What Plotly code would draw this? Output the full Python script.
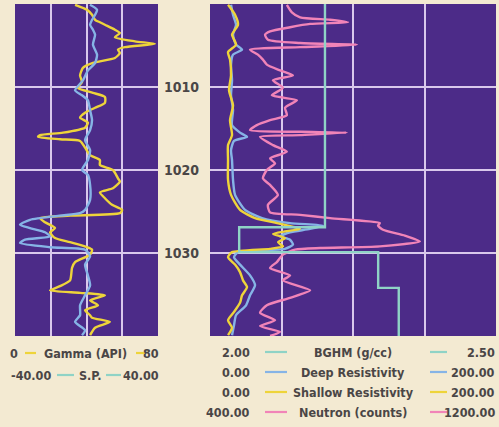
import plotly.graph_objects as go

# ---------------- data ----------------
gamma_depth = [1000.1, 1000.7, 1001.3, 1001.9, 1002.2, 1002.5, 1003.1, 1003.5, 1004.0, 1004.5, 1004.8,
               1005.2, 1005.5, 1005.9, 1006.5, 1007.1, 1007.7, 1008.6, 1009.4, 1010.1, 1010.7, 1011.2,
               1011.9, 1012.5, 1013.1, 1013.7, 1014.3, 1014.9, 1015.5, 1015.8, 1016.0, 1016.3, 1016.5,
               1017.3, 1018.2, 1018.8, 1019.4, 1020.0, 1021.0, 1021.4, 1022.2, 1022.7, 1023.4, 1024.2,
               1024.8, 1025.2, 1025.5, 1025.8, 1026.3, 1027.0, 1027.5, 1028.2, 1028.7, 1029.3, 1029.6,
               1030.2, 1031.1, 1031.8, 1033.3, 1034.0, 1034.5, 1034.8, 1035.1, 1035.7, 1036.3, 1036.9,
               1037.5, 1037.8, 1038.3, 1039.0, 1039.9]
gamma_api = [33.6, 40.3, 43.1, 44.8, 47.5, 50.3, 55.9, 58.7, 55.9, 67.1, 78.3,
             61.5, 57.6, 58.7, 55.9, 43.6, 38.0, 36.4, 37.5, 35.2, 43.6, 50.3,
             50.3, 44.8, 39.2, 36.4, 40.8, 39.2, 26.9, 14.0, 12.9, 25.2, 36.4,
             39.2, 42.0, 47.5, 47.5, 54.8, 57.6, 58.7, 54.8, 47.5, 50.3, 54.3,
             59.9, 58.7, 30.8, 14.0, 16.8, 22.4, 19.6, 22.4, 30.8, 40.3, 43.1,
             42.0, 33.6, 31.9, 30.8, 25.2, 19.6, 36.4, 50.3, 42.0, 46.4, 39.2,
             42.0, 43.1, 53.1, 44.8, 42.0]

sp_depth = [1000.1, 1000.7, 1001.3, 1001.9, 1002.5, 1003.1, 1003.7, 1004.9, 1006.1, 1007.1, 1008.0,
            1009.2, 1010.4, 1011.0, 1011.6, 1012.8, 1014.0, 1015.2, 1016.4, 1017.6, 1018.8, 1020.0,
            1020.6, 1021.8, 1023.6, 1024.8, 1025.2, 1025.5, 1026.0, 1026.6, 1027.0, 1027.5, 1028.0,
            1028.4, 1028.8, 1029.3, 1029.6, 1030.4, 1031.4, 1032.7, 1033.9, 1035.1, 1036.3, 1037.5,
            1038.3, 1039.3, 1039.9]
sp_mv = [1.95, 5.9, 4.8, 3.1, 2.0, 3.6, 4.8, 3.6, 5.9, 4.8, 0.8,
         -2.0, -6.4, -2.5, 0.8, 2.0, 3.1, 2.0, -0.8, 2.0, 0.8, -2.5,
         0.8, 2.0, 2.0, -0.8, -3.6, -14.8, -31.6, -37.2, -31.6, -23.2, -20.4,
         -34.4, -37.2, -20.4, -0.8, 2.0, -0.8, 0.8, 2.0, -0.8, -3.6, -3.6,
         -6.4, -0.8, -2.5]

shallow_depth = [1000.1, 1001.3, 1002.5, 1003.7, 1004.9, 1005.8, 1006.7, 1008.6, 1010.4, 1012.2, 1014.0,
                 1015.8, 1017.0, 1018.8, 1021.2, 1023.0, 1024.8, 1025.8, 1026.4, 1026.9, 1027.1, 1027.4,
                 1027.7, 1028.2, 1028.7, 1029.2, 1029.5, 1029.9, 1030.5, 1031.4, 1032.3, 1033.3, 1034.1,
                 1035.1, 1036.0, 1037.1, 1038.1, 1039.0, 1039.9]
shallow_res = [12.6, 17.5, 19.6, 15.4, 18.2, 12.6, 14.0, 14.7, 13.3, 16.1, 14.0,
               15.4, 12.6, 12.6, 12.6, 14.7, 21.0, 31.5, 46.9, 59.4, 62.9, 52.4,
               44.1, 52.4, 47.6, 51.0, 42.0, 15.4, 12.6, 17.5, 21.0, 23.1, 25.9,
               22.4, 21.0, 16.8, 12.6, 15.4, 12.6]

deep_depth = [1000.1, 1001.3, 1002.5, 1003.7, 1004.9, 1005.5, 1006.1, 1007.3, 1009.2, 1011.0, 1012.8,
              1014.6, 1015.5, 1016.0, 1016.5, 1017.6, 1018.8, 1021.2, 1023.0, 1024.8, 1025.8, 1026.4,
              1026.7, 1027.1, 1027.5, 1028.0, 1028.4, 1029.0, 1029.5, 1029.9, 1030.5, 1031.4, 1032.7,
              1033.9, 1035.1, 1036.3, 1037.5, 1038.7, 1039.9]
deep_res = [14.7, 16.1, 18.2, 16.1, 18.2, 22.4, 16.1, 14.7, 15.4, 14.7, 16.1,
            15.4, 21.0, 25.9, 16.8, 14.7, 15.4, 16.1, 17.5, 24.5, 36.4, 55.9,
            79.0, 69.9, 55.9, 49.0, 55.9, 58.0, 52.4, 19.6, 16.8, 21.0, 28.0,
            31.5, 28.0, 25.2, 18.2, 16.8, 15.4]

neutron_depth = [1000.1, 1001.0, 1001.6, 1001.9, 1002.2, 1002.4, 1002.8, 1003.3, 1003.7, 1004.3, 1004.7,
                 1004.9, 1005.2, 1005.5, 1006.1, 1006.7, 1007.3, 1008.0, 1008.6, 1009.2, 1010.1, 1011.0,
                 1011.6, 1012.5, 1013.4, 1014.0, 1014.6, 1015.2, 1015.4, 1015.5, 1015.8, 1016.0, 1017.0,
                 1017.8, 1018.6, 1019.2, 1020.0, 1021.0, 1021.8, 1023.0, 1024.2, 1025.1, 1025.4, 1025.8,
                 1026.4, 1026.7, 1027.2, 1027.9, 1028.6, 1029.2, 1029.4, 1029.6, 1030.2, 1031.1, 1031.8,
                 1032.7, 1033.3, 1034.5, 1035.4, 1036.3, 1037.2, 1038.1, 1038.8, 1039.5, 1040.0]
neutron_counts = [615, 629, 652, 736, 786, 680, 624, 568, 554, 562, 652,
                  811, 652, 512, 534, 548, 559, 596, 632, 576, 604, 573,
                  643, 610, 615, 568, 531, 512, 652, 783, 652, 540, 576,
                  615, 568, 582, 559, 548, 568, 590, 562, 568, 652, 736,
                  875, 870, 884, 945, 987, 875, 708, 638, 604, 587, 568,
                  624, 604, 680, 624, 559, 540, 582, 540, 596, 568]

bghm_depth = [1000.0, 1026.9, 1029.9, 1034.2, 1040.0]
bghm_gcc = [2.201, 2.051, 2.294, 2.330, 2.330]

depth_ticks = [1010, 1020, 1030]

# ---------------- style ----------------
BG = "#F3EAD2"
PURPLE = "#4C2B88"
GRID = "#D9C8EC"
YELLOW = "#EED43A"
BLUE = "#86B4E6"
TEAL = "#8FD3C6"
PINK = "#F184B8"
TXT = "#4A4646"
FONT = "DejaVu Sans Condensed, Liberation Sans, sans-serif"
LW = 2.4
SMOOTH = dict(shape="spline", smoothing=0.6)

fig = go.Figure()
fig.add_trace(go.Scatter(x=sp_mv, y=sp_depth, xaxis="x2", yaxis="y", mode="lines",
                         line=dict(color=BLUE, width=LW, **SMOOTH)))
fig.add_trace(go.Scatter(x=gamma_api, y=gamma_depth, xaxis="x", yaxis="y", mode="lines",
                         line=dict(color=YELLOW, width=LW, **SMOOTH)))
fig.add_trace(go.Scatter(x=neutron_counts, y=neutron_depth, xaxis="x4", yaxis="y2", mode="lines",
                         line=dict(color=PINK, width=LW, **SMOOTH)))
fig.add_trace(go.Scatter(x=bghm_gcc, y=bghm_depth, xaxis="x5", yaxis="y2", mode="lines",
                         line=dict(color=TEAL, width=LW, shape="vh")))
fig.add_trace(go.Scatter(x=deep_res, y=deep_depth, xaxis="x3", yaxis="y2", mode="lines",
                         line=dict(color=BLUE, width=LW, **SMOOTH)))
fig.add_trace(go.Scatter(x=shallow_res, y=shallow_depth, xaxis="x3", yaxis="y2", mode="lines",
                         line=dict(color=YELLOW, width=LW, **SMOOTH)))

W, H = 499, 427
ld = [15 / W, 158 / W]
rd = [210 / W, 496 / W]
yd = [1 - 336 / H, 1 - 4 / H]

hid = dict(showticklabels=False, ticks="", zeroline=False, showline=False)
fig.update_layout(
    width=W, height=H, margin=dict(l=0, r=0, t=0, b=0),
    paper_bgcolor=BG, plot_bgcolor=PURPLE, showlegend=False,
    font=dict(family=FONT, color=TXT),
    xaxis=dict(domain=ld, range=[0, 80], anchor="y", tickvals=[20, 40, 60],
               showgrid=True, gridcolor=GRID, gridwidth=2, **hid),
    xaxis2=dict(range=[-40, 40], overlaying="x", anchor="y", showgrid=False, visible=False),
    xaxis3=dict(domain=rd, range=[0, 200], anchor="y2", tickvals=[50, 100, 150],
                showgrid=True, gridcolor=GRID, gridwidth=2, **hid),
    xaxis4=dict(range=[400, 1200], overlaying="x3", anchor="y2", showgrid=False, visible=False),
    xaxis5=dict(range=[2.0, 2.5], overlaying="x3", anchor="y2", showgrid=False, visible=False),
    yaxis=dict(domain=yd, range=[1040, 1000], anchor="x", tickvals=depth_ticks,
               showgrid=True, gridcolor=GRID, gridwidth=2, **hid),
    yaxis2=dict(domain=yd, range=[1040, 1000], anchor="x3", tickvals=depth_ticks,
                showgrid=True, gridcolor=GRID, gridwidth=2, showticklabels=True, ticks="",
                ticklabelstandoff=10, zeroline=False, showline=False,
                tickfont=dict(family=FONT, size=14, color=TXT, weight="bold")),
)

fs = 12.5
tfont = dict(family=FONT, size=fs, color=TXT, weight="bold")
anns = []
shapes = []


def txt(s, x, y, anchor):
    anns.append(dict(text=s, x=x / W, y=1 - y / H, xref="paper", yref="paper", xanchor=anchor,
                     yanchor="middle", showarrow=False, font=tfont))


def seg(x0, x1, y, col):
    shapes.append(dict(type="line", xref="paper", yref="paper", x0=x0 / W, x1=x1 / W,
                       y0=1 - y / H, y1=1 - y / H, line=dict(color=col, width=2.2)))


# left legend
txt("0", 20, 353, "right")
seg(25, 36, 353, YELLOW)
txt("Gamma (API)", 85, 353, "center")
seg(136, 146, 353, YELLOW)
txt("80", 161, 353, "right")

txt("-40.00", 53, 375, "right")
seg(57, 74, 375, TEAL)
txt("S.P.", 90, 375, "center")
seg(106, 121, 375, TEAL)
txt("40.00", 161, 375, "right")

rows = [("2.00", "BGHM (g/cc)", "2.50", TEAL, 352),
        ("0.00", "Deep Resistivity", "200.00", BLUE, 372),
        ("0.00", "Shallow Resistivity", "200.00", YELLOW, 392),
        ("400.00", "Neutron (counts)", "1200.00", PINK, 412)]
for lo, lab, hi, col, yy in rows:
    txt(lo, 252, yy, "right")
    seg(265, 287, yy, col)
    txt(lab, 353, yy, "center")
    seg(430, 447, yy, col)
    txt(hi, 497, yy, "right")

fig.update_layout(annotations=anns, shapes=shapes)
fig.write_html("out.html")
